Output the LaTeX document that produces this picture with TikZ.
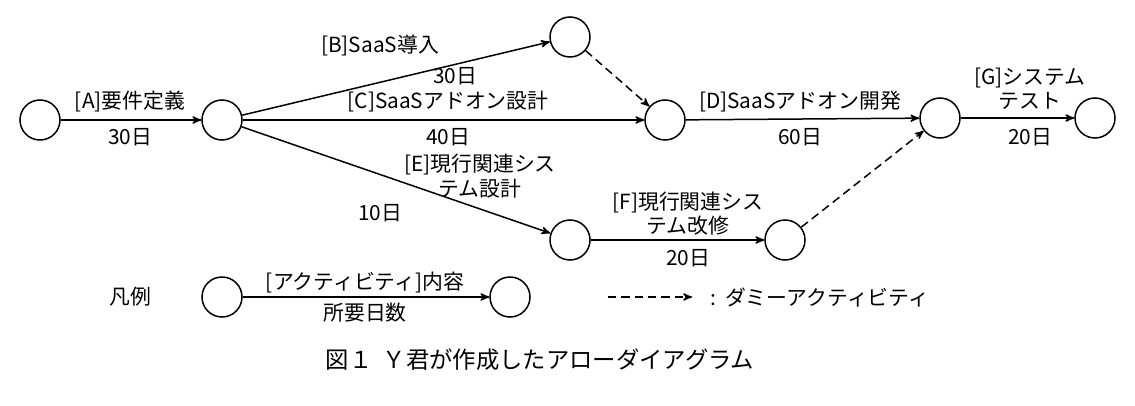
\documentclass[tikz,border=0pt]{standalone}
\usepackage{fontspec}
\setmainfont{Noto Sans CJK JP}
\usetikzlibrary{arrows}
\tikzset{ev/.style={draw, circle, minimum size=24pt, inner sep=0pt, line width=0.9pt},
  act/.style={->, >=stealth', line width=0.9pt},
  dummy/.style={act, dash pattern=on 5pt off 3pt},
  lbl/.style={inner sep=1pt, font=\fontsize{12.5pt}{14.5pt}\selectfont}}
\begin{document}
\begin{tikzpicture}[x=0.6pt, y=-0.6pt]
\useasboundingbox (0,0) rectangle (1135,406);
\node[ev] (N1) at (40, 120) {};
\node[ev] (N2) at (222, 120) {};
\node[ev] (N3) at (570, 37) {};
\node[ev] (N4) at (665, 120) {};
\node[ev] (N5) at (940, 118) {};
\node[ev] (N6) at (1095, 118) {};
\node[ev] (N7) at (570, 240) {};
\node[ev] (N8) at (785, 240) {};
\draw[act] (N1) to (N2);
\draw[act] (N2) to (N3);
\draw[act] (N2) to (N4);
\draw[act] (N2) to (N7);
\draw[dummy] (N3) to (N4);
\draw[act] (N4) to (N5);
\draw[act] (N7) to (N8);
\draw[dummy] (N8) to (N5);
\draw[act] (N5) to (N6);
\node[lbl] (la) at (130, 102) {[A]要件定義};
\node[lbl] (ta) at (130, 137) {30日};
\node[lbl] (lb) at (380, 46) {[B]SaaS導入};
\node[lbl] (tb) at (455, 76) {30日};
\node[lbl] (lc) at (448, 102) {[C]SaaSアドオン設計};
\node[lbl] (tc) at (448, 137) {40日};
\node[lbl] (ld) at (800, 102) {[D]SaaSアドオン開発};
\node[lbl] (td) at (800, 137) {60日};
\node[lbl, align=center] (lg) at (1030, 89) {[G]システム\\テスト};
\node[lbl] (tg) at (1030, 137) {20日};
\node[lbl, align=center] (le) at (480, 176) {[E]現行関連シス\\テム設計};
\node[lbl] (te) at (380, 213) {10日};
\node[lbl, align=center] (lf) at (688, 214) {[F]現行関連シス\\テム改修};
\node[lbl] (tf) at (688, 258) {20日};
% legend
\node[lbl] (lgd) at (130, 297) {凡例};
\node[ev] (L1) at (222, 297) {};
\node[ev] (L2) at (510, 297) {};
\draw[act] (L1) to (L2);
\node[lbl] (ll) at (365, 283) {[アクティビティ]内容};
\node[lbl] (lt) at (365, 313) {所要日数};
\coordinate (d1) at (608, 297);
\coordinate (d2) at (692, 297);
\draw[dummy] (d1) to (d2);
\node[lbl, anchor=west] (ld) at (708, 297) {:\ \ ダミーアクティビティ};
\node[lbl, font=\fontsize{14pt}{16pt}\selectfont] (cap) at (540, 360) {図１\ \ Ｙ君が作成したアローダイアグラム};
\end{tikzpicture}
\end{document}
